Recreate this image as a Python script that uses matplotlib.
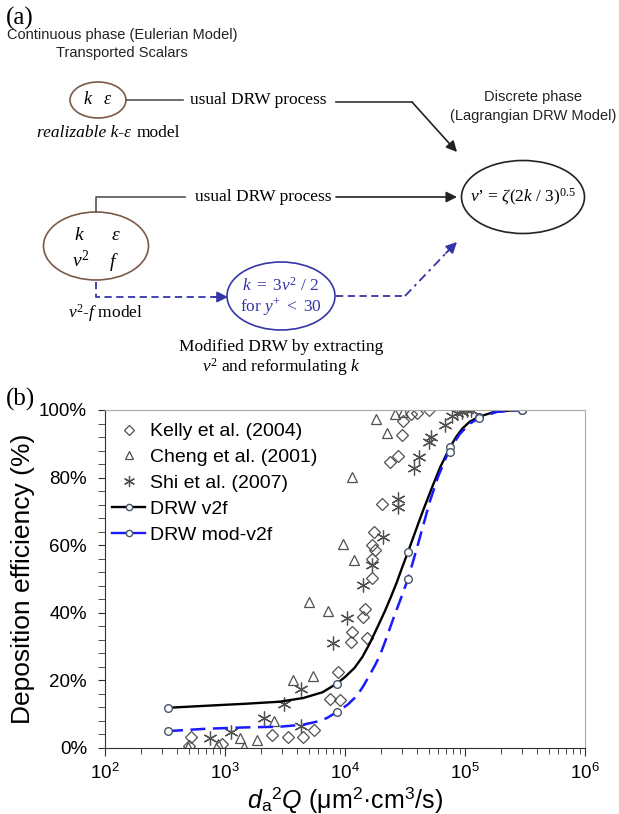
import numpy as np
import matplotlib
matplotlib.use("Agg")
import matplotlib.pyplot as plt
from matplotlib.patches import Ellipse
from matplotlib.lines import Line2D
from matplotlib.ticker import LogLocator, PercentFormatter, MultipleLocator

plt.rcParams['font.family'] = ['Liberation Sans', 'DejaVu Sans']
plt.rcParams['mathtext.fontset'] = 'custom'
plt.rcParams['mathtext.rm'] = 'Liberation Serif'
plt.rcParams['mathtext.it'] = 'Liberation Serif:italic'
plt.rcParams['mathtext.bf'] = 'Liberation Serif:bold'
plt.rcParams['mathtext.sf'] = 'Liberation Sans:italic'

# ---- data of panel (b) ----
kelly_x = [504, 521, 938, 2470, 3380, 4490, 5540, 7430, 9030, 8790, 11300, 11500,
           15200, 14200, 14700, 16700, 16700, 17800, 16900, 17500, 20300, 23600,
           27900, 30000, 30600, 35300, 40000, 50400]
kelly_y = [0.7, 3.3, 1.3, 3.7, 3.2, 3.3, 5.2, 14.4, 14.1, 22.4, 31.4, 34.4,
           32.5, 38.8, 41.0, 50.3, 55.8, 58.5, 60.2, 64.0, 72.2, 84.6,
           86.5, 92.7, 96.8, 98.8, 99.2, 100.0]

cheng_x = [494, 866, 1340, 1430, 1840, 2570, 3710, 5440, 4970, 7260, 9570,
           11900, 11400, 18200, 22500, 26300, 30600]
cheng_y = [0.4, 1.2, 3.0, 0.4, 2.5, 7.9, 20.1, 21.3, 43.3, 40.4, 60.4,
           55.7, 80.3, 97.2, 93.2, 98.8, 99.5]

shi_x = [750, 1120, 2100, 3110, 4310, 4320, 7940, 10400, 14200, 16700, 20700,
         27400, 27400, 37700, 41600, 49800, 52200, 68100, 77900, 86500, 94400,
         104000, 112000]
shi_y = [3.0, 4.8, 8.9, 13.0, 17.4, 6.4, 31.0, 38.4, 48.1, 54.1, 62.4,
         73.7, 71.4, 82.8, 86.2, 90.5, 91.9, 95.6, 98.1, 99.0, 99.5,
         100.0, 100.0]

model_x = [335, 8500, 33500, 75000, 131000, 300000]
v2f_y = [11.9, 19.0, 58.0, 89.0, 98.0, 100.0]
mod_y = [5.0, 10.6, 50.0, 87.6, 97.6, 100.0]

# curves traced along the drawn (smoothed) lines
v2f_curve_x = [335, 700, 1500, 2870, 4500, 6500, 8500, 10000, 12000, 14000,
               16100, 18500, 21500, 24000, 27000, 30000, 33500, 39000, 45000,
               53000, 62000, 75000, 85000, 95000, 110000, 131000, 170000,
               230000, 300000]
v2f_curve_y = [11.9, 12.5, 13.1, 13.7, 14.8, 16.5, 19.0, 21.0, 23.7, 27.0,
               31.0, 35.5, 40.5, 44.5, 49.0, 53.5, 58.0, 64.5, 70.5,
               77.0, 83.0, 89.0, 92.2, 94.5, 96.6, 98.0, 99.3,
               99.8, 100.0]
mod_curve_x = [335, 700, 1500, 2870, 4500, 6000, 7100, 8500, 10500, 12600,
               14200, 16000, 17800, 19600, 21500, 23700, 26000, 28700, 31000,
               33500, 40000, 51000, 60000, 71000, 80000, 91000, 110000,
               131000, 185000, 300000]
mod_curve_y = [5.0, 5.7, 6.1, 6.3, 6.9, 7.9, 8.9, 10.6, 12.8, 15.5,
               18.3, 21.5, 24.5, 27.5, 31.3, 35.5, 39.5, 43.5, 46.8,
               50.0, 59.5, 73.0, 80.5, 86.7, 90.0, 93.0, 96.0,
               97.6, 99.5, 100.0]

y_ticks = [0, 20, 40, 60, 80, 100]

fig = plt.figure(figsize=(6.19, 8.14), dpi=100)

# ---- panel (a): schematic, drawn in pixel coordinates ----
d = fig.add_axes([0, 0, 1, 1])
d.set_xlim(0, 619)
d.set_ylim(814, 0)
d.axis('off')

serif = ['Liberation Serif', 'DejaVu Serif']
brown = '#7a5a48'
blue = '#3535a8'
gray = '#555555'

d.text(6, 18, '(a)', family=serif, fontsize=18, va='center')
d.text(6, 399, '(b)', family=serif, fontsize=18, va='center')
d.text(122, 35, 'Continuous phase (Eulerian Model)', fontsize=10.5,
       ha='center', va='center', color='#222222')
d.text(122, 53, 'Transported Scalars', fontsize=10.5, ha='center',
       va='center', color='#222222')
d.text(533, 97, 'Discrete phase', fontsize=10.5, ha='center', va='center',
       color='#222222')
d.text(533, 116, '(Lagrangian DRW Model)', fontsize=10.5, ha='center',
       va='center', color='#222222')

# ellipses
d.add_patch(Ellipse((98, 100), 56, 36, fill=False, ec=brown, lw=1.2))
d.add_patch(Ellipse((96, 246), 105, 68, fill=False, ec=brown, lw=1.2))
d.add_patch(Ellipse((523, 197), 123, 73, fill=False, ec='#222222', lw=1.2))
d.add_patch(Ellipse((281, 296), 108, 68, fill=False, ec=blue, lw=1.2))

d.text(98, 100, r'$k\ \ \ \varepsilon$', fontsize=13, ha='center', va='center')
d.text(131, 133, 'realizable k-ε', family=serif, style='italic', fontsize=12.5,
       ha='right', va='center')
d.text(137, 133, 'model', family=serif, fontsize=12.5, ha='left', va='center')

d.text(79, 236, r'$k$', fontsize=14, ha='center', va='center')
d.text(116, 236, r'$\varepsilon$', fontsize=14, ha='center', va='center')
d.text(81, 261, r'$v^2$', fontsize=14, ha='center', va='center')
d.text(114, 262, r'$f$', fontsize=14, ha='center', va='center')
d.text(105, 313, r'$v^2$-$f$ model', family=serif, fontsize=12.5,
       ha='center', va='center')

d.text(523, 197, r"$v$’ = $\zeta$(2$k$ / 3)$^{0.5}$", family=serif,
       fontsize=12.5, ha='center', va='center')
d.text(281, 285, r'$k\ =\ 3v^2\ /\ 2$', fontsize=12.5, ha='center',
       va='center', color=blue)
d.text(281, 307, r'$\mathrm{for}\ y^{+}\ <\ 30$', fontsize=12.5, ha='center',
       va='center', color=blue)
d.text(281, 347, 'Modified DRW by extracting', family=serif, fontsize=12.5,
       ha='center', va='center')
d.text(281, 367, r'$v^2$ and reformulating $k$', family=serif, fontsize=12.5,
       ha='center', va='center')

d.text(190, 100, 'usual DRW process', family=serif, fontsize=12.5, va='center')
d.text(195, 197, 'usual DRW process', family=serif, fontsize=12.5, va='center')

# connectors
d.plot([126, 183], [100, 100], color=gray, lw=1.2)
d.plot([96, 96, 185], [212, 197, 197], color=gray, lw=1.2)
d.plot([336, 412], [102, 102], color='#333333', lw=1.2)
arrow = dict(arrowstyle='-|>', color='#222222', lw=1.2, mutation_scale=16,
             shrinkA=0, shrinkB=0)
d.annotate('', xy=(457, 152), xytext=(412, 102), arrowprops=arrow)
d.annotate('', xy=(457, 197), xytext=(336, 197), arrowprops=arrow)

d.plot([96, 96, 218], [282, 297, 297], color=blue, lw=1.3, ls=(0, (4, 2.5)))
d.annotate('', xy=(228, 297), xytext=(214, 297),
           arrowprops=dict(arrowstyle='-|>', color=blue, lw=1.3,
                           mutation_scale=16, shrinkA=0, shrinkB=0))
d.plot([336, 405], [296, 296], color=blue, lw=1.3, ls=(0, (4, 2.5)))
d.plot([405, 449], [296, 250], color=blue, lw=1.3, ls=(0, (5, 2.5, 1.5, 2.5)))
d.annotate('', xy=(457, 242), xytext=(446, 253),
           arrowprops=dict(arrowstyle='-|>', color=blue, lw=1.3,
                           mutation_scale=16, shrinkA=0, shrinkB=0))

# ---- panel (b): deposition efficiency ----
ax = fig.add_axes([105 / 619, 66 / 814, 480 / 619, 338 / 814])
mk = dict(ls='none', mfc='none', mec='#505050', mew=0.9)
ax.plot(kelly_x, kelly_y, marker='D', ms=6, **mk)
ax.plot(cheng_x, cheng_y, marker='^', ms=7, **mk)
ax.plot(shi_x, shi_y, marker=(6, 2, 0), ms=10, **mk)
ax.plot(v2f_curve_x, v2f_curve_y, color='black', lw=1.7)
ax.plot(mod_curve_x, mod_curve_y, color='#1a1aff', lw=1.8, ls=(0, (6, 3)))
ax.plot(model_x, v2f_y, ls='none', marker='o', ms=5.5, mfc='white',
        mec='#44546a', mew=1)
ax.plot(model_x, mod_y, ls='none', marker='o', ms=5.5, mfc='white',
        mec='#44546a', mew=1)

ax.set_xscale('log')
ax.set_xlim(1e2, 1e6)
ax.set_ylim(0, 100)
ax.set_yticks(y_ticks)
ax.yaxis.set_minor_locator(MultipleLocator(4))
ax.yaxis.set_major_formatter(PercentFormatter(xmax=100, decimals=0))
ax.xaxis.set_minor_locator(LogLocator(base=10, subs=np.arange(2, 10)))
for s in ['top', 'right']:
    ax.spines[s].set_color('#a8a8a8')
for s in ['left', 'bottom']:
    ax.spines[s].set_color('#303030')
ax.tick_params(which='both', direction='out', color='#303030', labelsize=13.5)
ax.tick_params(axis='y', which='major', length=5, pad=8)
ax.tick_params(axis='y', which='minor', length=5)
ax.tick_params(axis='x', which='major', length=6, pad=5)
ax.tick_params(axis='x', which='minor', length=4)

ax.set_ylabel('Deposition efficiency (%)', fontsize=19, labelpad=3)
ax.set_xlabel(r'$\mathsf{d}_{\mathdefault{a}}{}^{\mathdefault{2}}\mathsf{Q}$'
              r' (μm$^{\mathdefault{2}}$·cm$^{\mathdefault{3}}$/s)',
              fontsize=18, labelpad=1)

handles = [
    Line2D([], [], marker='D', ms=5, **mk),
    Line2D([], [], marker='^', ms=5.5, **mk),
    Line2D([], [], marker=(6, 2, 0), ms=8, **mk),
    Line2D([], [], color='black', lw=1.7, marker='o', ms=4.5, mfc='white',
           mec='#44546a'),
    Line2D([], [], color='#1a1aff', lw=1.7, marker='o', ms=4.5, mfc='white',
           mec='#44546a'),
]
labels = ['Kelly et al. (2004)', 'Cheng et al. (2001)', 'Shi et al. (2007)',
          'DRW v2f', 'DRW mod-v2f']
ax.legend(handles, labels, loc='upper left', bbox_to_anchor=(0.015, 0.962),
          frameon=False, fontsize=14, handlelength=1.7, handletextpad=0.25,
          labelspacing=0.42, borderpad=0, borderaxespad=0)

fig.savefig('out.png', dpi=100)
